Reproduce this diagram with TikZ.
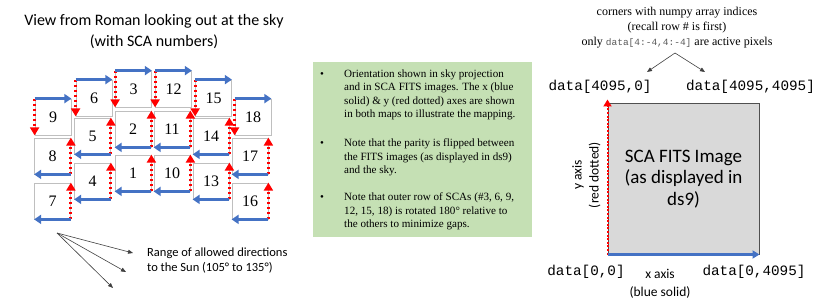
\documentclass[tikz,border=0pt]{standalone}
\usepackage{fontspec}
\setmainfont{Liberation Serif}
\newfontfamily\carlitofont{Carlito}
\newfontfamily\codefont{Liberation Mono}
\usetikzlibrary{arrows.meta}
\definecolor{officeblue}{HTML}{4472C4}
\definecolor{boxgreen}{HTML}{C5E0B4}
\definecolor{edgegrey}{HTML}{BFBFBF}
\definecolor{fitsgrey}{HTML}{D9D9D9}
\definecolor{fitsedge}{HTML}{505050}
\definecolor{codegrey}{HTML}{595959}
\tikzset{
  sca/.style={draw=edgegrey, line width=0.8pt, minimum width=36pt, minimum height=36pt, inner sep=0pt, font=\fontsize{16}{16}\selectfont},
  bluearr/.style={draw=officeblue, line width=3pt, -{Triangle[length=7pt,width=9pt]}, officeblue},
  redarr/.style={draw=red, line width=3pt, dash pattern=on 2.6pt off 2.4pt, -{Triangle[length=8pt,width=9pt]}, red},
  redbig/.style={draw=red, line width=2pt, dash pattern=on 2pt off 1.6pt, -{Triangle[length=7pt,width=8pt]}, red},
  bluebig/.style={draw=officeblue, line width=2.5pt, -{Triangle[length=7pt,width=8pt]}, officeblue},
  thinarr/.style={draw=black!75, line width=0.6pt, -{Triangle[length=5pt,width=4pt]}},
  codelabel/.style={inner sep=0pt, font=\codefont\fontsize{14.3}{16}\selectfont},
  sanslabel/.style={inner sep=0pt, align=center, font=\carlitofont\fontsize{13.5}{17}\selectfont},
  note/.style={anchor=north west, inner sep=0pt, align=left, font=\fontsize{11.1}{13.5}\selectfont},
  bulletnode/.style={anchor=base, inner sep=0pt, font=\fontsize{11}{13.5}\selectfont},
}
\begin{document}
\begin{tikzpicture}[x=1pt,y=-1pt]
\useasboundingbox (0,0) rectangle (830,302);
% title
\node[inner sep=0pt, align=center, font=\carlitofont\fontsize{16}{21}\selectfont] (title) at (154,32) {View from Roman looking out at the sky\\(with SCA numbers)};
% SCA boxes
\node[sca] (s9) at (53,117) {9};
\node[sca] (s8) at (52.5,156) {8};
\node[sca] (s7) at (52.5,201) {7};
\node[sca] (s6) at (94,98) {6};
\node[sca] (s5) at (92.5,136) {5};
\node[sca] (s4) at (92.5,181) {4};
\node[sca] (s3) at (133.5,89) {3};
\node[sca] (s2) at (133,129) {2};
\node[sca] (s1) at (133,173) {1};
\node[sca] (s12) at (173.5,89) {12};
\node[sca] (s11) at (172,129) {11};
\node[sca] (s10) at (172,173) {10};
\node[sca] (s15) at (213.5,98) {15};
\node[sca] (s14) at (211,136) {14};
\node[sca] (s13) at (211,181) {13};
\node[sca] (s18) at (253,117) {18};
\node[sca] (s17) at (250,156) {17};
\node[sca] (s16) at (250,201) {16};
% outer row arrows
\foreach \s in {s9,s6,s3,s12,s15,s18}{
  \draw[redarr] (\s.north west) -- (\s.south west);
  \draw[bluearr] (\s.north west) -- (\s.north east);
}
% inner arrows
\foreach \s in {s8,s7,s5,s4,s2,s1,s11,s10,s14,s13,s17,s16}{
  \draw[redarr] (\s.south east) -- (\s.north east);
  \draw[bluearr] (\s.south east) -- (\s.south west);
}
% sun directions
\coordinate (sunorigin) at (57,233);
\coordinate (sunA) at (133,253);
\coordinate (sunB) at (126,272);
\coordinate (sunC) at (113,288);
\draw[thinarr] (sunorigin) -- (sunA);
\draw[thinarr] (sunorigin) -- (sunB);
\draw[thinarr] (sunorigin) -- (sunC);
\node[anchor=west, inner sep=0pt, align=left, font=\carlitofont\fontsize{12.5}{15.5}\selectfont] (sunlabel) at (147,260.5) {Range of allowed directions\\to the Sun (105° to 135°)};
% green notes box
\node[fill=boxgreen, anchor=north west, minimum width=219pt, minimum height=175pt, inner sep=0pt] (notes) at (313,62) {};
\node[note] (n1) at (344,69.5) {Orientation shown in sky projection\\and in SCA FITS images. The x (blue\\solid) \& y (red dotted) axes are shown\\in both maps to illustrate the mapping.};
\node[note] (n2) at (344,138.5) {Note that the parity is flipped between\\the FITS images (as displayed in ds9)\\and the sky.};
\node[note] (n3) at (344,192.5) {Note that outer row of SCAs (\#3, 6, 9,\\12, 15, 18) is rotated 180° relative to\\the others to minimize gaps.};
\node[bulletnode] (b1) at (322,77.5) {•};
\node[bulletnode] (b2) at (322,146.5) {•};
\node[bulletnode] (b3) at (322,200.5) {•};
% right side
\node[inner sep=0pt, align=center, font=\fontsize{12}{15}\selectfont] (corners) at (677,28) {corners with numpy array indices\\(recall row \# is first)\\only {\codefont\fontsize{9.5}{15}\selectfont\color{codegrey}data[4:-4,4:-4]} are active pixels};
\coordinate (apex) at (675,53);
\coordinate (tipL) at (647,72);
\coordinate (tipR) at (705,72);
\draw[thinarr] (apex) -- (tipL);
\draw[thinarr] (apex) -- (tipR);
\node[codelabel] (d1) at (600,87) {data[4095,0]};
\node[codelabel] (d2) at (750.5,87) {data[4095,4095]};
\node[fill=fitsgrey, draw=fitsedge, line width=1pt, minimum width=151pt, minimum height=150pt, inner sep=0pt, align=center, font=\carlitofont\fontsize{19}{21.5}\selectfont] (fits) at (683.5,179) {SCA FITS Image\\(as displayed in\\ds9)};
\draw[redbig] (fits.south west) -- ([yshift=4pt]fits.north west);
\draw[bluebig] (fits.south west) -- (fits.south east);
\node[sanslabel, rotate=90] (ylab) at (586.5,175) {y axis\\(red dotted)};
\node[sanslabel, font=\carlitofont\fontsize{13.5}{18}\selectfont] (xlab) at (660,284) {x axis\\(blue solid)};
\node[codelabel] (d3) at (586,272) {data[0,0]};
\node[codelabel] (d4) at (754,272) {data[0,4095]};
\end{tikzpicture}
\end{document}
